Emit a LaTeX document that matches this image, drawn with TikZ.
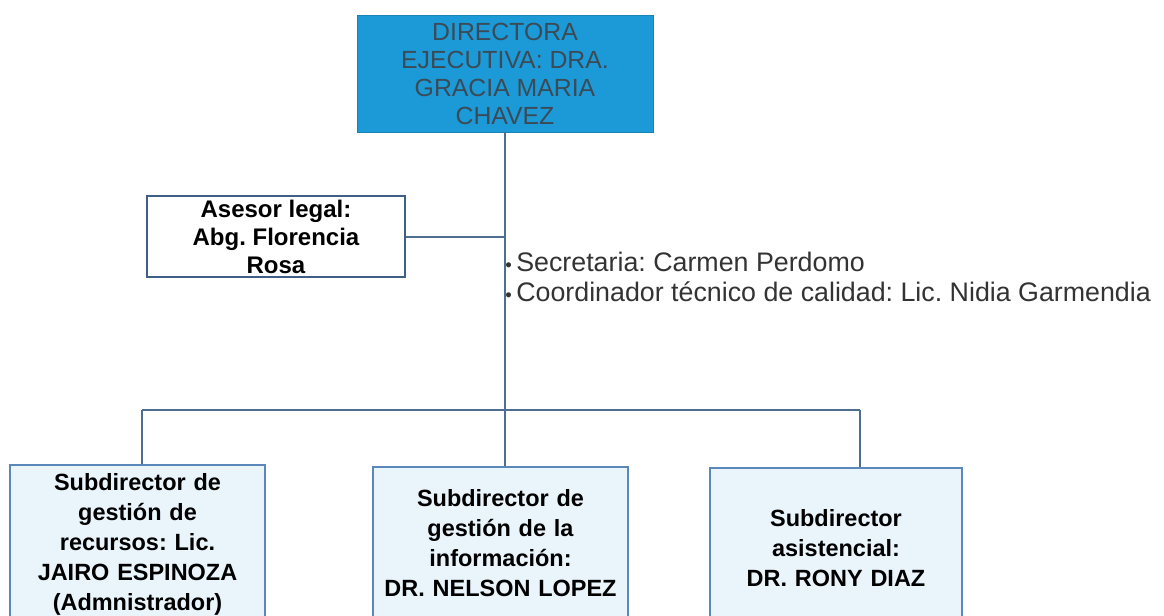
\documentclass[tikz,border=0pt]{standalone}
\usepackage{fontspec}
\setmainfont{Liberation Sans}
\frenchspacing
\definecolor{topfill}{HTML}{1C9AD8}
\definecolor{toptext}{HTML}{3C4A55}
\definecolor{lineblue}{HTML}{4F6F92}
\definecolor{boxborder}{HTML}{5A88BA}
\definecolor{boxfill}{HTML}{E9F4FB}
\definecolor{asborder}{HTML}{3F5F86}
\begin{document}
\begin{tikzpicture}[x=0.75pt,y=-0.75pt,
  conn/.style={draw=lineblue,line width=1.1pt},
  topbox/.style={rectangle,fill=topfill,draw=topfill!85!black,line width=0.6pt,
    minimum width=222pt,minimum height=87.75pt,inner sep=0pt,align=center,
    text=toptext,font=\frenchspacing\fontsize{18.6}{21}\selectfont},
  asbox/.style={rectangle,fill=white,draw=asborder,line width=1.2pt,
    minimum width=193.5pt,minimum height=60.75pt,inner sep=0pt,align=center,
    font=\frenchspacing\bfseries\fontsize{18}{21}\selectfont},
  subbox/.style={rectangle,fill=boxfill,draw=boxborder,line width=1.2pt,
    inner sep=0pt,align=center,text width=180pt,
    font=\frenchspacing\bfseries\fontsize{17.6}{22.5}\selectfont},
  note/.style={anchor=west,align=left,inner sep=0pt,text=black!80,
    font=\frenchspacing\fontsize{20.1}{22.5}\selectfont}]
\useasboundingbox (0,0) rectangle (1164,615);
\fill[white] (0,0) rectangle (1164,615);
\clip (0,0) rectangle (1164,615);
% nodes
\node[topbox] (dir) at (505,73.5) {DIRECTORA\\EJECUTIVA: DRA.\\GRACIA MARIA\\CHAVEZ};
\node[asbox] (ase) at (276,236.5) {Asesor legal:\\Abg. Florencia\\Rosa};
\node[note] (sec) at (505,277) {{\fontsize{14}{14}\selectfont\textbullet}\,Secretaria: Carmen Perdomo\\{\fontsize{14}{14}\selectfont\textbullet}\,Coordinador técnico de calidad: Lic. Nidia Garmendia};
\node[subbox,minimum width=191.25pt,minimum height=118.5pt] (s1) at (137.5,544) {Subdirector de\\gestión de\\recursos: Lic.\\JAIRO ESPINOZA\\(Admnistrador)};
\node[subbox,minimum width=191.25pt,minimum height=114.75pt] (s2) at (500.5,543.5) {Subdirector de\\gestión de la\\información:\\DR. NELSON LOPEZ};
\node[subbox,minimum width=189pt,minimum height=120pt] (s3) at (836,548) {Subdirector\\asistencial:\\DR. RONY DIAZ};
% coordinates
\coordinate (bm) at (505,410);
\coordinate (bl) at (142,410);
\coordinate (br) at (860,410);
\coordinate (aj) at (505,237);
% connectors
\draw[conn] (dir.south -| bm) -- (bm);
\draw[conn] (bm) -- (bm |- s2.north);
\draw[conn] (ase.east |- aj) -- (aj);
\draw[conn] (bl) -- (br);
\draw[conn] (bl) -- (bl |- s1.north);
\draw[conn] (br) -- (br |- s3.north);
\end{tikzpicture}
\end{document}
